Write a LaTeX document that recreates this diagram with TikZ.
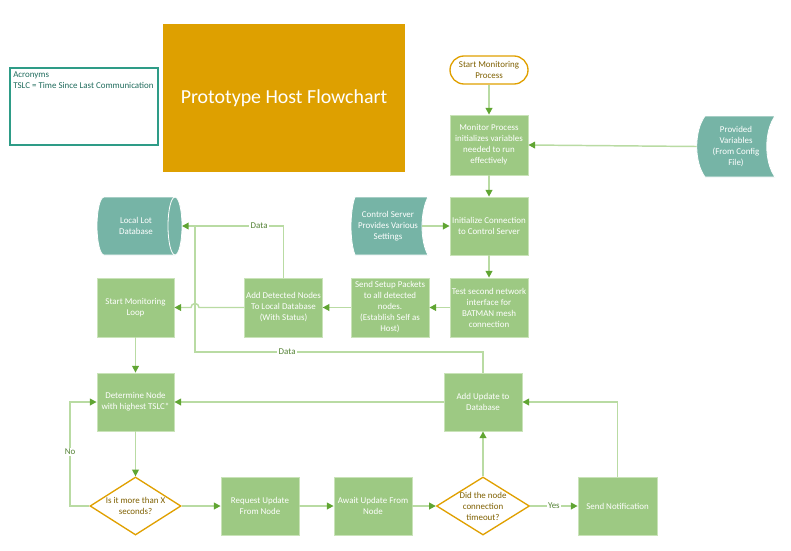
\documentclass[tikz,border=0pt]{standalone}
\usepackage{fontspec}
\setmainfont{Carlito}
\usetikzlibrary{arrows.meta,shapes.geometric}
\definecolor{boxg}{HTML}{9DC983}
\definecolor{boxb}{HTML}{C9E3B8}
\definecolor{lineg}{HTML}{B9DBA3}
\definecolor{tipg}{HTML}{60A532}
\definecolor{labg}{HTML}{548235}
\definecolor{tealf}{HTML}{76B4A6}
\definecolor{tealb}{HTML}{2E9C87}
\definecolor{acrot}{HTML}{1F6B5C}
\definecolor{orng}{HTML}{E0A000}
\definecolor{titleo}{HTML}{DEA000}
\definecolor{brownt}{HTML}{7F6000}
\newcommand\boxf{\fontsize{6.7}{8.25}\selectfont}
\begin{document}
\begin{tikzpicture}[x=0.75pt,y=-0.75pt,
  proc/.style={rectangle, fill=boxg, draw=boxb, line width=0.6pt, text=white, align=center, font=\boxf, minimum width=58.5pt, minimum height=43.5pt, inner sep=1pt},
  txt/.style={text=white, align=center, font=\boxf, inner sep=1pt},
  decision/.style={diamond, draw=orng, fill=white, line width=1pt, minimum height=43.5pt, inner sep=0pt},
  flow/.style={draw=lineg, line width=1.1pt, -{Triangle[length=5pt,width=5pt,color=tipg]}},
  plain/.style={draw=lineg, line width=1.1pt},
  lab/.style={fill=white, text=labg, font=\boxf, inner sep=1pt},
  shapefill/.style={fill=tealf, draw=white, line width=0.6pt}
]
\useasboundingbox (0,0) rectangle (791,550);

% title and acronyms
\node[fill=titleo, minimum width=181.5pt, minimum height=111pt, text=white, font=\fontsize{14.9}{17}\selectfont] (title) at (284,98) {Prototype Host Flowchart};
\node[draw=tealb, line width=0.9pt, minimum width=111pt, minimum height=57.75pt] (acro) at (84,106.5) {};
\node[anchor=north west, align=left, text=acrot, font=\boxf, inner sep=0pt] (acrotext) at (13,71) {Acronyms\\TSLC = Time Since Last Communication};

% teal data shapes
\path[shapefill] (705,116) -- (775,116) .. controls (764,131) and (764,162) .. (775,177) -- (705,177) .. controls (694,162) and (694,131) .. (705,116) -- cycle;
\node[txt, minimum width=58.5pt, minimum height=45.75pt] (prov) at (736,146.5) {Provided\\Variables\\(From Config\\File)};

\path[shapefill] (355,197) -- (428,197) .. controls (420,212) and (420,241) .. (428,255) -- (355,255) .. controls (349.7,241) and (349.7,212) .. (355,197) -- cycle;
\node[txt, minimum width=51pt, minimum height=43.5pt] (ctrl) at (388,226) {Control Server\\Provides Various\\Settings};

\path[shapefill] (104,197) -- (175,197) arc[start angle=90, end angle=-90, x radius=5.25pt, y radius=21.75pt] -- (104,255) arc[start angle=270, end angle=90, x radius=5.25pt, y radius=21.75pt] -- cycle;
\draw[white, line width=0.6pt] (175,197) arc[start angle=90, end angle=270, x radius=5.25pt, y radius=21.75pt];
\node[txt, minimum width=58.5pt, minimum height=43.5pt] (local) at (136,226) {Local Lot\\Database};
\coordinate (localin) at (182,226);

% process nodes
\node[proc, minimum height=21pt, rounded corners=10.5pt, fill=white, draw=orng, line width=1pt, text=brownt] (start) at (489,70) {Start Monitoring\\Process};
\node[proc, minimum height=45pt] (monitor) at (489,145) {Monitor Process\\initializes variables\\needed to run\\effectively};
\node[proc] (init) at (489,226) {Initialize Connection\\to Control Server};
\node[proc, minimum height=44.25pt] (test) at (489,307.5) {Test second network\\interface for\\BATMAN mesh\\connection};
\node[proc, minimum height=44.25pt] (send) at (390,307.5) {Send Setup Packets\\to all detected\\nodes.\\(Establish Self as\\Host)};
\node[proc, minimum height=44.25pt, minimum width=57.75pt] (adddet) at (283.5,307.5) {Add Detected Nodes\\To Local Database\\(With Status)};
\node[proc, minimum height=44.25pt, minimum width=57.75pt] (loop) at (135.5,307.5) {Start Monitoring\\Loop};
\node[proc, minimum width=57.75pt] (determine) at (135.5,402) {Determine Node\\with highest TSLC*};
\node[proc] (addupd) at (483,402) {Add Update to\\Database};
\node[proc] (request) at (260,506) {Request Update\\From Node};
\node[proc] (await) at (373,506) {Await Update From\\Node};
\node[proc, minimum width=59.25pt] (notif) at (617.5,506) {Send Notification};

\node[decision, minimum width=68.25pt, label={[text=brownt, align=center, font=\boxf]center:{Is it more than X\\seconds?}}] (d1) at (135.5,506) {};
\node[decision, minimum width=69.75pt, label={[text=brownt, align=center, font=\boxf]center:{Did the node\\connection\\timeout?}}] (d2) at (483,506) {};

% connectors
\draw[flow] (start) -- (monitor);
\draw[flow] (prov.west) -- (monitor.east);
\draw[flow] (monitor) -- (init);
\draw[flow] (ctrl.east) -- (init.west);
\draw[flow] (init) -- (test);
\draw[flow] (test) -- (send);
\draw[flow] (send) -- (adddet);
\coordinate (hopr) at (199,307.5);
\draw[flow] (adddet.west) -- (hopr) arc[start angle=0, end angle=180, radius=3pt] -- (loop.east);
\draw[flow] (adddet.north) |- node[lab, pos=0.62] {Data} (localin);
\coordinate (dj) at (195,352);
\coordinate (dk) at (195,226);
\draw[plain] (addupd.north) |- node[lab, pos=0.84] {Data} (dj) -- (dk);
\draw[flow] (loop) -- (determine);
\draw[flow] (determine) -- (d1);
\coordinate (nox) at (70,0);
\draw[flow] (d1.west) -| node[lab, pos=0.76] {No} (nox |- determine.west) -- (determine.west);
\draw[flow] (d1.east) -- (request.west);
\draw[flow] (request) -- (await);
\draw[flow] (await.east) -- (d2.west);
\draw[flow] (d2.north) -- (addupd.south);
\draw[flow] (d2.east) -- node[lab] {Yes} (notif.west);
\draw[flow] (notif.north) |- (addupd.east);
\draw[flow] (addupd.west) -- (determine.east);
\end{tikzpicture}
\end{document}
